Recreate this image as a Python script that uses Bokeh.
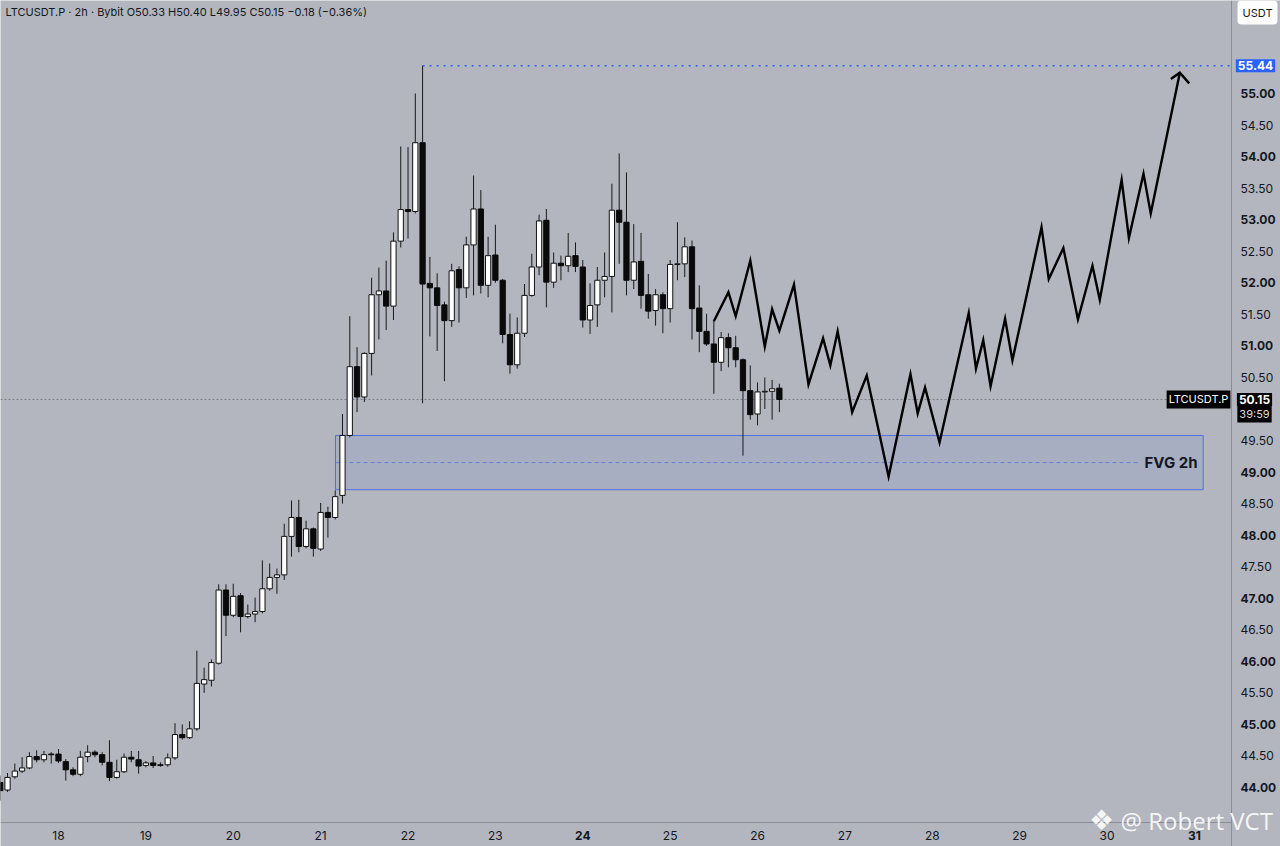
import numpy as np
from bokeh.plotting import figure
from bokeh.models import Label, Range1d, Span
from bokeh.embed import file_html
from bokeh.resources import INLINE
from bokeh.core.properties import value

# ---------------- data (LTCUSDT.P, 2h candles, Bybit) ----------------
first_bar_day = 17 + 8 / 24   # first candle: 17th, 08:00
bar_hours = 2

opens = [44.08, 43.96, 44.17, 44.26, 44.31, 44.49, 44.44, 44.53, 44.53, 44.41,
         44.28, 44.21, 44.49, 44.56, 44.52, 44.40, 44.16, 44.25, 44.48, 44.44,
         44.35, 44.39, 44.36, 44.36, 44.47, 44.84, 44.79, 44.93, 45.64, 45.70,
         45.97, 47.13, 46.73, 47.04, 46.71, 46.75, 46.79, 47.15, 47.33, 47.37,
         47.98, 48.28, 47.82, 48.10, 47.78, 48.36, 48.28, 48.63, 49.58, 50.67,
         50.19, 50.88, 51.81, 51.87, 51.63, 52.66, 53.16, 53.13, 54.22, 51.99,
         51.92, 51.65, 51.40, 52.21, 51.92, 52.60, 53.17, 51.96, 52.44, 52.04,
         51.18, 50.70, 51.20, 51.80, 52.25, 52.99, 52.01, 52.31, 52.27, 52.43,
         52.25, 51.41, 51.65, 52.04, 52.10, 53.15, 52.96, 52.04, 52.34, 51.81,
         51.56, 51.81, 51.59, 52.29, 52.30, 52.57, 51.60, 51.23, 51.03, 50.74,
         51.13, 50.97, 50.78, 50.29, 49.92, 50.27, 50.28, 50.33]
highs = [44.19, 44.23, 44.38, 44.48, 44.56, 44.59, 44.58, 44.56, 44.61, 44.45,
         44.32, 44.58, 44.67, 44.59, 44.56, 44.75, 44.44, 44.54, 44.58, 44.58,
         44.42, 44.50, 44.40, 44.54, 45.02, 45.00, 45.05, 46.17, 45.90, 46.03,
         47.22, 47.22, 47.23, 47.08, 46.90, 47.01, 47.60, 47.55, 47.47, 48.18,
         48.55, 48.56, 48.23, 48.12, 48.51, 48.45, 48.71, 49.92, 51.47, 50.98,
         50.90, 52.08, 52.24, 52.35, 52.80, 54.16, 54.15, 55.00, 55.44, 52.41,
         52.15, 51.70, 52.30, 52.26, 52.73, 53.70, 53.47, 52.73, 52.92, 52.06,
         51.51, 51.45, 51.98, 52.46, 53.08, 53.17, 52.48, 52.43, 52.79, 52.64,
         52.36, 51.99, 52.25, 52.48, 53.57, 54.05, 53.75, 52.93, 52.79, 52.14,
         51.90, 51.85, 52.36, 52.96, 52.72, 52.67, 51.96, 51.51, 51.40, 51.22,
         51.20, 51.16, 50.80, 50.69, 50.42, 50.50, 50.46, 50.40]
lows = [43.79, 43.93, 44.14, 44.23, 44.29, 44.40, 44.40, 44.38, 44.39, 44.11,
        44.18, 44.18, 44.40, 44.48, 44.35, 44.10, 44.14, 44.23, 44.40, 44.22,
        44.32, 44.31, 44.33, 44.33, 44.44, 44.76, 44.77, 44.90, 45.50, 45.60,
        45.95, 46.40, 46.70, 46.46, 46.68, 46.62, 46.76, 47.12, 47.07, 47.29,
        47.66, 47.73, 47.79, 47.66, 47.75, 47.96, 48.25, 48.50, 49.55, 49.95,
        50.11, 50.53, 51.10, 51.25, 51.41, 52.56, 52.70, 53.10, 50.09, 51.15,
        50.92, 50.44, 51.30, 51.37, 51.76, 51.80, 51.83, 51.77, 52.00, 51.04,
        50.56, 50.64, 51.14, 51.78, 52.12, 51.61, 51.92, 52.04, 52.17, 52.17,
        51.29, 51.19, 51.30, 51.77, 51.53, 52.30, 51.80, 51.90, 51.59, 51.43,
        51.32, 51.20, 51.37, 52.04, 52.09, 51.10, 50.90, 51.00, 50.24, 50.60,
        50.66, 50.66, 49.26, 49.83, 49.74, 50.00, 49.83, 49.95]
closes = [43.95, 44.16, 44.26, 44.31, 44.49, 44.44, 44.52, 44.52, 44.42, 44.28,
          44.21, 44.48, 44.56, 44.52, 44.40, 44.16, 44.25, 44.48, 44.45, 44.34,
          44.39, 44.35, 44.35, 44.47, 44.84, 44.79, 44.93, 45.65, 45.71, 45.98,
          47.13, 46.73, 47.03, 46.71, 46.75, 46.79, 47.15, 47.33, 47.37, 47.98,
          48.28, 47.82, 48.10, 47.79, 48.36, 48.28, 48.61, 49.58, 50.67, 50.19,
          50.88, 51.81, 51.87, 51.63, 52.66, 53.16, 53.13, 54.22, 51.98, 51.92,
          51.64, 51.40, 52.19, 51.92, 52.60, 53.17, 51.96, 52.43, 52.04, 51.18,
          50.70, 51.20, 51.80, 52.25, 52.98, 52.01, 52.31, 52.27, 52.42, 52.26,
          51.41, 51.64, 52.04, 52.10, 53.15, 52.96, 52.04, 52.33, 51.80, 51.55,
          51.81, 51.59, 52.29, 52.30, 52.57, 51.59, 51.23, 51.03, 50.74, 51.13,
          50.97, 50.78, 50.29, 49.91, 50.27, 50.28, 50.32, 50.15]

# projected path (drawn by hand on the chart)
proj_day = [25.5, 25.667, 25.75, 25.917, 26.083, 26.167, 26.25, 26.417, 26.583,
            26.75, 26.833, 26.917, 27.083, 27.25, 27.5, 27.75, 27.833, 27.917,
            28.083, 28.417, 28.5, 28.583, 28.667, 28.833, 28.917, 29.25, 29.333,
            29.5, 29.667, 29.833, 29.917, 30.167, 30.25, 30.417, 30.5, 30.833]
proj_price = [51.39, 51.85, 51.47, 52.35, 50.99, 51.58, 51.24, 51.97, 50.39,
              51.12, 50.69, 51.23, 49.95, 50.53, 48.93, 50.55, 49.93, 50.34,
              49.47, 51.52, 50.64, 51.09, 50.36, 51.43, 50.77, 52.88, 52.06,
              52.55, 51.42, 52.27, 51.73, 53.63, 52.71, 53.73, 53.10, 55.33]
arrow_day = [30.73, 30.833, 30.94]
arrow_price = [55.23, 55.33, 55.16]

fvg_left_day, fvg_right_day = 21.17, 31.10
fvg_top, fvg_bottom, fvg_mid = 49.58, 48.72, 49.15
fvg_text_day = 31.035
fvg_mid_end_day = 30.38

swing_high = 55.44
swing_high_day = 22.167
last_price = 50.15
countdown = "39:59"

date_ticks = [18, 19, 20, 21, 22, 23, 24, 25, 26, 27, 28, 29, 30, 31]
bold_dates = [24, 31]
# 50.00 sits under the last-price tag, so it is not shown
price_ticks = [44.0, 44.5, 45.0, 45.5, 46.0, 46.5, 47.0, 47.5, 48.0, 48.5, 49.0,
               49.5, 50.5, 51.0, 51.5, 52.0, 52.5, 53.0, 53.5, 54.0, 54.5, 55.0]

# ---------------- styles ----------------
BG = "#b3b6be"
TXT = "#131722"
AXIS = "#8a8d95"
FONT = "Inter"
W, H = 1280, 846

# whole canvas is the plotting frame; price scale and time scale are drawn inside it
X_LO, X_HI = 17.3362, 31.985
Y_LO, Y_HI = 43.065, 56.474
PRICE_SCALE_DAY = 31.424     # left border of the price scale
TIME_SCALE_PRICE = 43.445    # top border of the time scale

p = figure(width=W, height=H, output_backend="svg", toolbar_location=None,
           x_range=Range1d(X_LO, X_HI), y_range=Range1d(Y_LO, Y_HI),
           x_axis_location=None, y_axis_location=None,
           min_border=0, min_border_left=0, min_border_right=0,
           min_border_top=0, min_border_bottom=0,
           background_fill_color=BG, border_fill_color=BG, outline_line_color=None)
p.xgrid.visible = False
p.ygrid.visible = False

# ---------------- FVG zone ----------------
p.quad(left=[fvg_left_day], right=[fvg_right_day], top=[fvg_top], bottom=[fvg_bottom],
       fill_color="#4d6fe6", fill_alpha=0.11, line_color="#4f6fe0", line_width=1)
p.segment(x0=[fvg_left_day], y0=[fvg_mid], x1=[fvg_mid_end_day], y1=[fvg_mid],
          line_color="#4f6fe0", line_alpha=0.7, line_dash="4 3", line_width=1)
p.text(x=[fvg_text_day], y=[fvg_mid], text=["FVG 2h"], text_font=value(FONT),
       text_font_style="bold", text_font_size="15px", text_color=TXT,
       text_align="right", text_baseline="middle")

# ---------------- lines ----------------
p.segment(x0=[X_LO], y0=[last_price], x1=[PRICE_SCALE_DAY], y1=[last_price],
          line_color="#7d8088", line_dash="2 2", line_width=1)
p.segment(x0=[swing_high_day], y0=[swing_high], x1=[PRICE_SCALE_DAY], y1=[swing_high],
          line_color="#2962ff", line_dash="2 5", line_width=1.6)

# ---------------- candles ----------------
o = np.array(opens); h = np.array(highs); l = np.array(lows); c = np.array(closes)
x = first_bar_day + np.arange(len(o)) * bar_hours / 24
up = c >= o
bw = 0.72 * bar_hours / 24
p.segment(x0=x, y0=h, x1=x, y1=l, line_color="#1a1a1a", line_width=1)
p.vbar(x=x[up], width=bw, top=c[up], bottom=o[up], fill_color="white", line_color="#111111", line_width=1)
p.vbar(x=x[~up], width=bw, top=o[~up], bottom=c[~up], fill_color="#0a0a0a", line_color="#0a0a0a", line_width=1)

# ---------------- projected path ----------------
p.line(proj_day, proj_price, line_color="#000000", line_width=2.4, line_join="miter")
p.line(arrow_day, arrow_price, line_color="#000000", line_width=2.4, line_join="miter")

# ---------------- scales (price on the right, time at the bottom) ----------------
p.add_layout(Span(location=PRICE_SCALE_DAY, dimension="height", line_color=AXIS, line_width=1))
p.segment(x0=[X_LO], y0=[TIME_SCALE_PRICE], x1=[PRICE_SCALE_DAY], y1=[TIME_SCALE_PRICE],
          line_color=AXIS, line_width=1)

for t in price_ticks:
    p.add_layout(Label(x=1240, x_units="screen", y=t, y_units="data",
                       text=f"{t:.2f}", text_font=FONT, text_font_size="12px",
                       text_font_style="bold" if t == int(t) else "normal",
                       text_color=TXT, text_baseline="middle"))
for d in date_ticks:
    p.add_layout(Label(x=d, x_units="data", y=11, y_units="screen",
                       text=str(d), text_font=FONT, text_font_size="12px",
                       text_font_style="bold" if d in bold_dates else "normal",
                       text_color=TXT, text_align="center", text_baseline="middle"))

# ---------------- price tags ----------------
p.add_layout(Label(x=1255, x_units="screen", y=swing_high, y_units="data",
                   text=f"{swing_high:.2f}", text_font=FONT, text_font_size="12px",
                   text_font_style="bold", text_color="white", text_align="center",
                   text_baseline="middle", background_fill_color="#2962ff", padding=2))
p.add_layout(Label(x=1254, x_units="screen", y=last_price, y_units="data",
                   text=f"{last_price:.2f}", text_font=FONT, text_font_size="12px",
                   text_font_style="bold", text_color="white", text_align="center",
                   text_baseline="middle", background_fill_color="#000000", padding=2))
p.add_layout(Label(x=1254, x_units="screen", y=H - 413, y_units="screen",
                   text=countdown, text_font=FONT, text_font_size="11px",
                   text_color="#dcdcdc", text_align="center",
                   text_baseline="middle", background_fill_color="#000000", padding=2))
p.add_layout(Label(x=1198, x_units="screen", y=last_price, y_units="data",
                   text="LTCUSDT.P", text_font=FONT, text_font_size="11px",
                   text_color="white", text_align="center", text_baseline="middle",
                   background_fill_color="#000000", padding=2))
p.add_layout(Label(x=1257, x_units="screen", y=H - 12, y_units="screen",
                   text="USDT", text_font=FONT, text_font_size="11px", text_color=TXT,
                   text_align="center", text_baseline="middle",
                   background_fill_color="white", padding=5, border_radius=4))

# ---------------- header ----------------
p.add_layout(Label(x=5, y=H - 11, x_units="screen", y_units="screen",
                   text="LTCUSDT.P · 2h · Bybit  O50.33  H50.40  L49.95  C50.15  −0.18 (−0.36%)",
                   text_font=FONT, text_font_size="11px", text_color=TXT, text_baseline="middle"))

# ---------------- watermark ----------------
p.add_layout(Label(x=1101, y=H - 820, x_units="screen", y_units="screen",
                   text="❖", text_font="DejaVu Sans", text_font_size="28px",
                   text_color="white", text_alpha=0.9, text_align="center", text_baseline="middle"))
p.add_layout(Label(x=1120, y=H - 820, x_units="screen", y_units="screen",
                   text="@ Robert VCT", text_font="Open Sans", text_font_size="24px",
                   text_color="white", text_alpha=0.9, text_baseline="middle"))

open("out.html", "w").write(file_html(p, INLINE))
